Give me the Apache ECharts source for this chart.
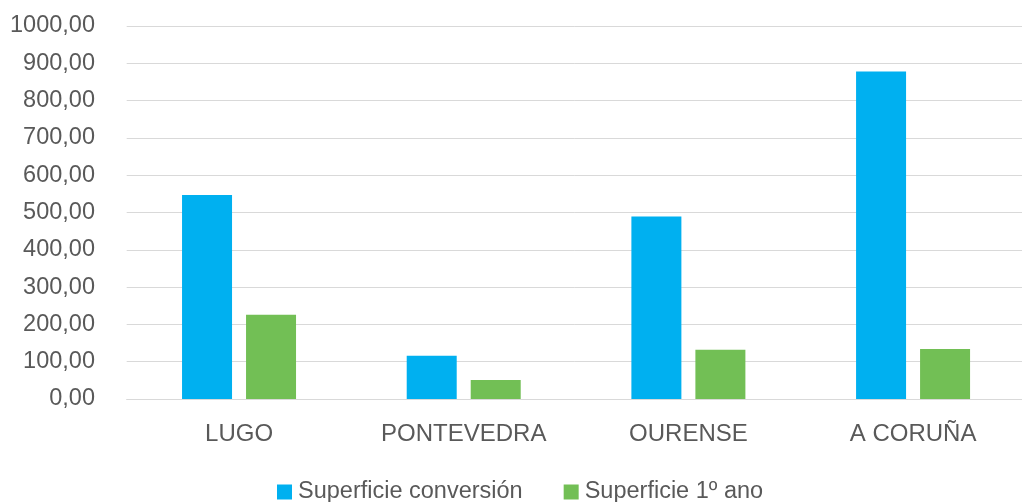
<!DOCTYPE html>
<html><head><meta charset="utf-8">
<script src="https://cdn.jsdelivr.net/npm/echarts@6/dist/echarts.min.js"></script>
<style>html,body{margin:0;padding:0;background:#fff}#c{width:1022px;height:502px}</style>
</head><body><div id="c"></div>
<script>
const categories = ['LUGO', 'PONTEVEDRA', 'OURENSE', 'A CORUÑA'];
const conversion = [547, 116, 489, 878];
const primerAno = [226, 51, 132, 134];
const seriesNames = ['Superficie conversión', 'Superficie 1º ano'];

const chart = echarts.init(document.getElementById('c'));
chart.setOption({
  animation: false,
  textStyle: { fontFamily: 'Liberation Sans, Arial, sans-serif' },
  grid: { left: 126.7, width: 898.7, top: 26, bottom: 103, outerBoundsMode: 'none', containLabel: false },
  legend: {
    top: 475, left: 272, itemWidth: 15, itemHeight: 15, itemGap: 41,
    icon: 'rect',
    textStyle: { fontSize: 23.5, color: '#595959', fontFamily: 'Liberation Sans, Arial, sans-serif', padding: [0, 0, 0, 1] },
    data: seriesNames
  },
  xAxis: {
    type: 'category', data: categories,
    axisLine: { show: true, lineStyle: { color: '#d9d9d9', width: 1 } },
    axisTick: { show: false },
    axisLabel: { fontSize: 24, color: '#595959', margin: 23 }
  },
  yAxis: {
    type: 'value', min: 0, max: 1000, interval: 100,
    axisLine: { show: false }, axisTick: { show: false },
    splitLine: { lineStyle: { color: '#d9d9d9', width: 1 } },
    axisLabel: { fontSize: 23.5, color: '#595959', margin: 31.7,
      formatter: v => v.toFixed(2).replace('.', ',') }
  },
  series: [
    { name: seriesNames[0], type: 'bar', data: conversion, barWidth: 50, barGap: '28%',
      itemStyle: { color: '#00B0F0' } },
    { name: seriesNames[1], type: 'bar', data: primerAno, barWidth: 50,
      itemStyle: { color: '#72BF55' } }
  ]
});
</script></body></html>
